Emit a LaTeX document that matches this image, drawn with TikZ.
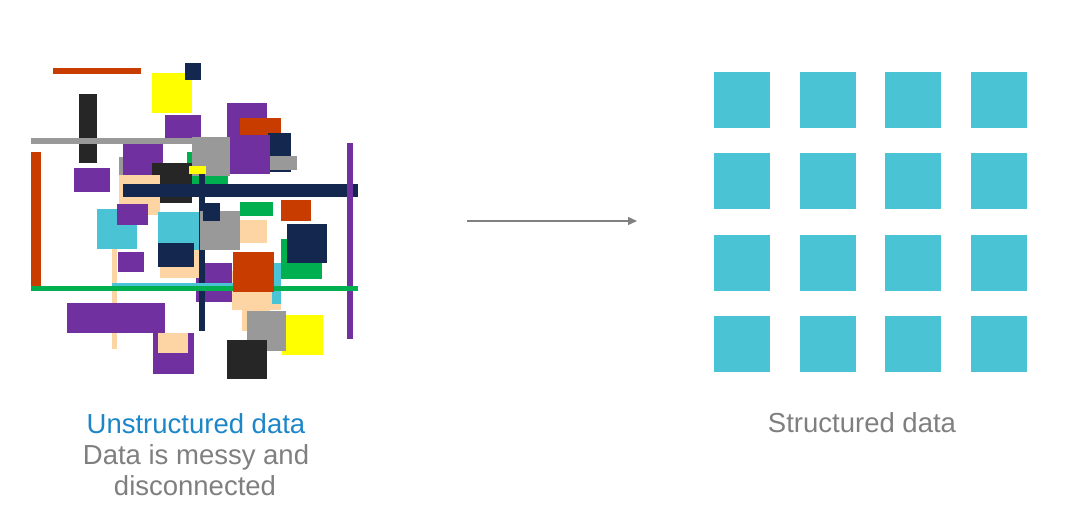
\documentclass[tikz,border=0pt]{standalone}
\usepackage{fontspec}
\setmainfont{Liberation Sans}
\usetikzlibrary{arrows.meta}
\definecolor{rust}{RGB}{200,60,0}
\definecolor{navy}{RGB}{19,39,79}
\definecolor{purp}{RGB}{112,48,160}
\definecolor{yel}{RGB}{255,255,0}
\definecolor{dark}{RGB}{38,38,38}
\definecolor{grey}{RGB}{153,153,153}
\definecolor{grn}{RGB}{0,176,80}
\definecolor{peach}{RGB}{253,213,165}
\definecolor{aqua}{RGB}{74,195,213}
\definecolor{txtblue}{RGB}{28,134,200}
\definecolor{txtgray}{RGB}{127,127,127}
\definecolor{arrgray}{RGB}{128,128,128}
\tikzset{%
    cell/.style={fill=aqua},
    lab/.style={anchor=base, inner sep=0pt, font=\fontsize{27.5}{33}\selectfont},
    flow/.style={line width=1.2pt, draw=arrgray, -{Triangle[length=9pt,width=8pt]}},
}
\begin{document}
\begin{tikzpicture}[x=1pt, y=-1pt]
    \useasboundingbox (0,0) rectangle (1083,529);
    \fill[rust] (53,68) rectangle (141,74);
    \fill[yel] (152,73) rectangle (192,113);
    \fill[navy] (185,63) rectangle (201,80);
    \fill[dark] (79,94) rectangle (97,163);
    \fill[purp] (165,115) rectangle (201,138);
    \fill[grey] (31,138) rectangle (200,144);
    \fill[rust] (31,152) rectangle (41,286);
    \fill[purp] (227,103) rectangle (267,174);
    \fill[rust] (240,118) rectangle (281,155);
    \fill[navy] (268,133) rectangle (291,172);
    \fill[purp] (227,135) rectangle (270,174);
    \fill[grey] (270,156) rectangle (297,170);
    \fill[grn] (187,152) rectangle (228,184);
    \fill[grey] (192,137) rectangle (230,176);
    \fill[grey] (119,157) rectangle (150,178);
    \fill[purp] (123,144) rectangle (163,185);
    \fill[purp] (74,168) rectangle (110,192);
    \fill[dark] (152,163) rectangle (192,203);
    \fill[peach] (119,175) rectangle (160,215);
    \fill[peach] (112,229) rectangle (117,349);
    \fill[purp] (196,263) rectangle (232,302);
    \fill[navy] (123,184) rectangle (358,197);
    \fill[navy] (199,168) rectangle (205,331);
    \fill[yel] (189,166) rectangle (206,174);
    \fill[purp] (347,143) rectangle (353,339);
    \fill[aqua] (97,209) rectangle (137,249);
    \fill[purp] (117,204) rectangle (148,225);
    \fill[aqua] (158,212) rectangle (199,252);
    \fill[peach] (160,250) rectangle (199,278);
    \fill[navy] (158,243) rectangle (194,267);
    \fill[purp] (118,252) rectangle (144,272);
    \fill[grey] (200,211) rectangle (240,250);
    \fill[navy] (203,203) rectangle (220,221);
    \fill[grn] (240,202) rectangle (273,216);
    \fill[peach] (240,220) rectangle (267,243);
    \fill[rust] (281,200) rectangle (311,221);
    \fill[grn] (281,239) rectangle (322,279);
    \fill[navy] (287,224) rectangle (327,263);
    \fill[peach] (232,271) rectangle (281,310);
    \fill[peach] (242,300) rectangle (270,331);
    \fill[aqua] (272,263) rectangle (281,304);
    \fill[aqua] (112,283) rectangle (233,288);
    \fill[grn] (31,286) rectangle (358,291);
    \fill[rust] (233,252) rectangle (274,292);
    \fill[yel] (282,315) rectangle (323,355);
    \fill[grey] (247,311) rectangle (286,351);
    \fill[dark] (227,340) rectangle (267,379);
    \fill[purp] (67,303) rectangle (165,333);
    \fill[purp] (153,333) rectangle (194,374);
    \fill[peach] (158,333) rectangle (188,353);
    \foreach \c in {0,...,3}
        \foreach \r in {0,...,3}
            \fill[cell] ({714+85.7*\c},{72+81.3*\r}) rectangle ++(56,56);
    \node[lab, text=txtblue] (unst) at (196,433) {Unstructured data};
    \node[lab, text=txtgray] (messy) at (196,464) {Data is messy and};
    \node[lab, text=txtgray] (disc) at (195,495) {disconnected};
    \node[lab, text=txtgray] (stru) at (862,432) {Structured data};
    \coordinate (from) at (467,221);
    \coordinate (to) at (637,221);
    \draw[flow] (from) -- (to);
\end{tikzpicture}
\end{document}
